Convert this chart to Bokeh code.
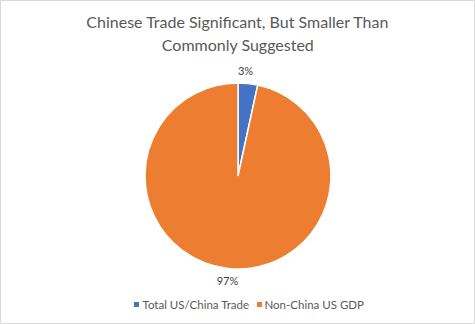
import numpy as np
from bokeh.plotting import figure
from bokeh.models import Range1d, ColumnDataSource
from bokeh.core.properties import value
from bokeh.embed import file_html
from bokeh.resources import INLINE

categories = ["Total US/China Trade", "Non-China US GDP"]
shares = [3.4, 96.6]
labels = ["3%", "97%"]
colors = ["#4472C4", "#ED7D31"]
title_lines = ["Chinese Trade Significant, But Smaller Than", "Commonly Suggested"]

W, H = 475, 324
p = figure(width=W, height=H, output_backend="svg", toolbar_location=None,
           x_range=Range1d(0, W), y_range=Range1d(0, H), min_border=0)
p.axis.visible = False
p.grid.visible = False
p.outline_line_color = "#d9d9d9"
p.background_fill_color = "white"
p.border_fill_color = "white"

cx, cy, r = 237.5, H - 175.5, 93
fr = np.array(shares) / sum(shares)
ends = np.cumsum(fr)
starts = ends - fr
start_ang = np.pi / 2 - starts * 2 * np.pi
end_ang = np.pi / 2 - ends * 2 * np.pi
src = ColumnDataSource(dict(x=[cx, cx], y=[cy, cy], s=start_ang, e=end_ang, c=colors))
p.wedge(x="x", y="y", radius=r, start_angle="s", end_angle="e", direction="clock",
        fill_color="c", line_color="white", line_width=1.5, source=src)

# data labels
p.text(x=[245, 227], y=[H - 70, H - 280], text=labels, text_font=value("Lato"),
       text_font_size="11px", text_color="#404040", text_align="center", text_baseline="middle")

# title
p.text(x=[W / 2, W / 2], y=[H - 21, H - 44], text=title_lines, text_font=value("Lato"),
       text_font_size="16px", text_color="#595959", text_align="center", text_baseline="middle")

# legend
p.scatter(x=[136, 259], y=[H - 304, H - 304], marker="square", size=5,
          fill_color=colors, line_color=None)
p.text(x=[142, 264], y=[H - 304, H - 304], text=categories, text_font=value("Lato"),
       text_font_size="11.5px", text_color="#595959", text_align="left", text_baseline="middle")

open("out.html", "w").write(file_html(p, INLINE))
